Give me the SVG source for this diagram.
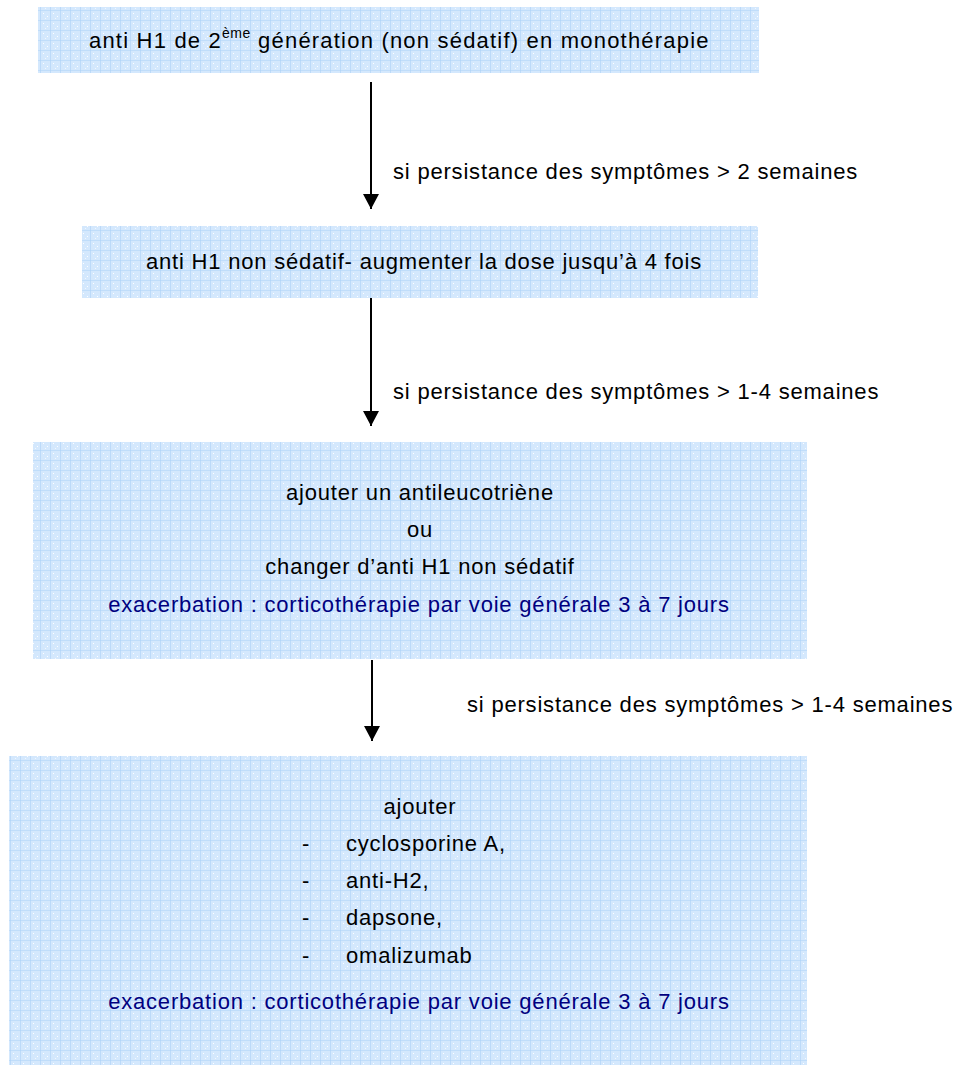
<svg xmlns="http://www.w3.org/2000/svg" width="965" height="1066" viewBox="0 0 965 1066">
<style>
text{font-family:"Liberation Sans",Arial,sans-serif;font-size:22px;letter-spacing:0.8px;fill:#000}
.c{text-anchor:middle}
.b{fill:#000080}
.w{letter-spacing:1.2px}
.box{fill:url(#grid)}
.conn line{stroke:#000;stroke-width:2}
</style>
<defs>
<pattern id="grid" width="10" height="10" patternUnits="userSpaceOnUse">
<rect width="10" height="10" fill="#d4e8fd"/>
<path d="M0 0H10M0 0V10" stroke="#acd2f7" stroke-width="1.2" fill="none"/>
<rect x="3" y="3" width="1" height="1" fill="#fff"/>
<rect x="7" y="6" width="1" height="1" fill="#fff"/>
<rect x="5" y="8" width="1" height="1" fill="#f2f8ff"/>
</pattern>
<marker id="arr" markerWidth="16" markerHeight="16" refX="15" refY="8" orient="auto" markerUnits="userSpaceOnUse" viewBox="0 0 15 16">
<path d="M0 0L15 8L0 16Z" fill="#000"/>
</marker>
</defs>
<g id="node1">
<rect class="box" x="38" y="7" width="721" height="66"/>
<text class="w" x="89" y="48">anti H1 de 2<tspan font-size="14" dy="-10" letter-spacing="0.5">ème</tspan><tspan dy="10"> génération (non sédatif) en monothérapie</tspan></text>
</g>
<g id="node2">
<rect class="box" x="82" y="226" width="676" height="72"/>
<text class="c" x="424" y="269">anti H1 non sédatif- augmenter la dose jusqu’à 4 fois</text>
</g>
<g id="node3">
<rect class="box" x="33" y="442" width="774" height="217"/>
<text class="c" x="420" y="500">ajouter un antileucotriène</text>
<text class="c" x="420" y="537">ou</text>
<text class="c" x="420" y="574">changer d’anti H1 non sédatif</text>
<text class="c b" x="419" y="612">exacerbation : corticothérapie par voie générale 3 à 7 jours</text>
</g>
<g id="node4">
<rect class="box" x="9" y="756" width="798" height="309"/>
<text class="c" x="420" y="814">ajouter</text>
<text x="302" y="851">-</text><text x="346" y="851">cyclosporine A,</text>
<text x="302" y="888">-</text><text x="346" y="888">anti-H2,</text>
<text x="302" y="925">-</text><text x="346" y="925">dapsone,</text>
<text x="302" y="963">-</text><text x="346" y="963">omalizumab</text>
<text class="c b" x="419" y="1009">exacerbation : corticothérapie par voie générale 3 à 7 jours</text>
</g>
<g id="connectors" class="conn">
<line x1="371" y1="82" x2="371" y2="209" marker-end="url(#arr)"/>
<line x1="371" y1="298" x2="371" y2="426" marker-end="url(#arr)"/>
<line x1="372" y1="660" x2="372" y2="741" marker-end="url(#arr)"/>
</g>
<g id="labels">
<text x="393" y="179">si persistance des symptômes &gt; 2 semaines</text>
<text x="393" y="399">si persistance des symptômes &gt; 1-4 semaines</text>
<text x="467" y="712">si persistance des symptômes &gt; 1-4 semaines</text>
</g>
</svg>
